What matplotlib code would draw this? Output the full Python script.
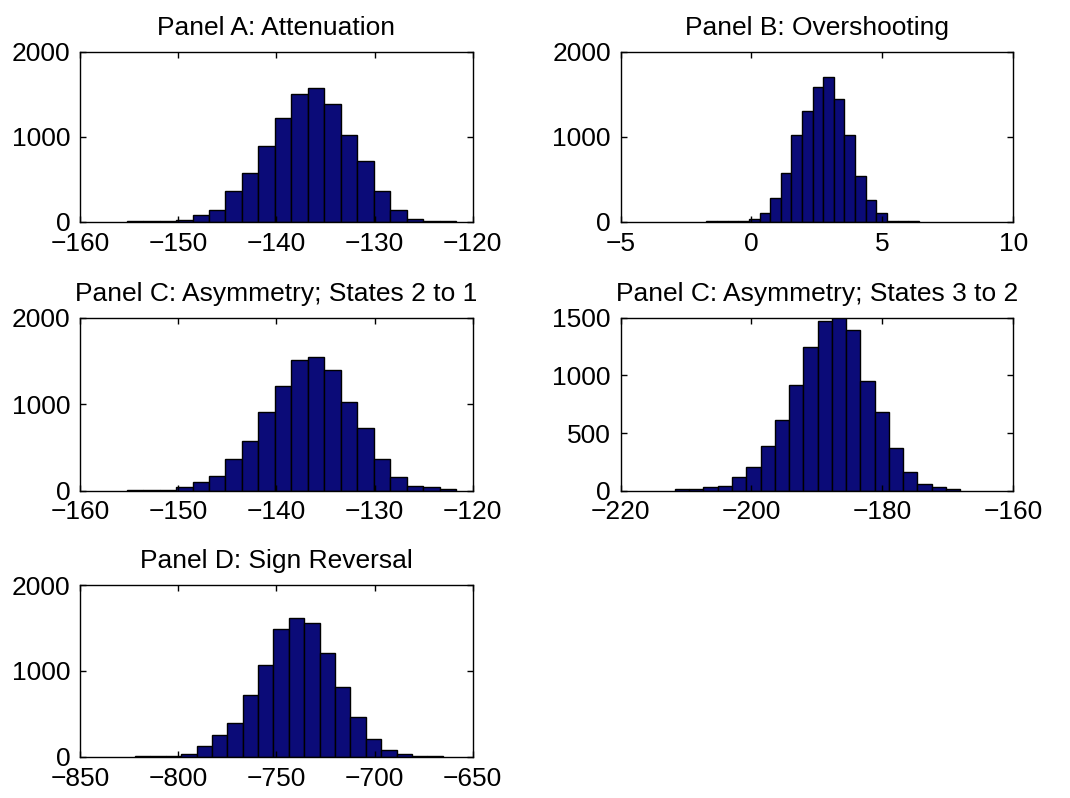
import numpy as np
import matplotlib as mpl
import matplotlib.pyplot as plt

mpl.rcParams["font.family"] = ["Liberation Sans", "DejaVu Sans"]
mpl.rcParams["font.size"] = 19

# 20 equal bins per panel: first edge, last edge, counts
titles = [
    "Panel A: Attenuation",
    "Panel B: Overshooting",
    "Panel C: Asymmetry; States 2 to 1",
    "Panel C: Asymmetry; States 3 to 2",
    "Panel D: Sign Reversal",
]

range_a = (-155.25, -121.7)
counts_a = [15, 10, 10, 20, 80, 145, 365, 570, 895, 1225,
            1500, 1570, 1390, 1020, 720, 365, 145, 35, 10, 8]

range_b = (-1.72, 6.39)
counts_b = [5, 5, 8, 15, 30, 100, 275, 580, 1020, 1305,
            1590, 1700, 1440, 1020, 540, 255, 105, 10, 8, 5]

range_c1 = (-155.25, -121.7)
counts_c1 = [10, 10, 10, 40, 105, 170, 365, 575, 905, 1205,
             1510, 1550, 1400, 1030, 730, 365, 160, 60, 40, 15]

range_c2 = (-211.7, -168.1)
counts_c2 = [15, 15, 30, 45, 115, 205, 390, 615, 920, 1245,
             1470, 1505, 1390, 955, 680, 370, 165, 60, 30, 15]

range_d = (-822.0, -665.3)
counts_d = [10, 10, 10, 30, 125, 250, 400, 725, 1075, 1485,
            1620, 1555, 1210, 815, 465, 205, 80, 35, 12, 12]

xlims = [(-160, -120), (-5, 10), (-160, -120), (-220, -160), (-850, -650)]
xticks = [[-160, -150, -140, -130, -120], [-5, 0, 5, 10],
          [-160, -150, -140, -130, -120], [-220, -200, -180, -160],
          [-850, -800, -750, -700, -650]]
ylims = [2000, 2000, 2000, 1500, 2000]
yticks = [[0, 1000, 2000], [0, 1000, 2000], [0, 1000, 2000],
          [0, 500, 1000, 1500], [0, 1000, 2000]]

ranges = [range_a, range_b, range_c1, range_c2, range_d]
counts = [counts_a, counts_b, counts_c1, counts_c2, counts_d]

fig = plt.figure(figsize=(10.7, 7.98), dpi=100)
positions = [
    [0.0748, 0.722, 0.367, 0.213],
    [0.580, 0.722, 0.367, 0.213],
    [0.0748, 0.385, 0.367, 0.217],
    [0.580, 0.385, 0.367, 0.217],
    [0.0748, 0.0514, 0.367, 0.2155],
]

for i in range(5):
    ax = fig.add_axes(positions[i])
    edges = np.linspace(ranges[i][0], ranges[i][1], 21)
    centers = (edges[:-1] + edges[1:]) / 2
    ax.hist(centers, bins=edges, weights=counts[i],
            color="#0b0b78", edgecolor="black", linewidth=1.0)
    ax.set_xlim(xlims[i])
    ax.set_ylim(0, ylims[i])
    ax.set_xticks(xticks[i])
    ax.set_yticks(yticks[i])
    ax.tick_params(direction="in", length=4, width=1, top=True, right=True, pad=7)
    for s in ax.spines.values():
        s.set_linewidth(1.0)
    ax.set_title(titles[i], fontsize=19, pad=12)

plt.savefig("out.png", dpi=100)
